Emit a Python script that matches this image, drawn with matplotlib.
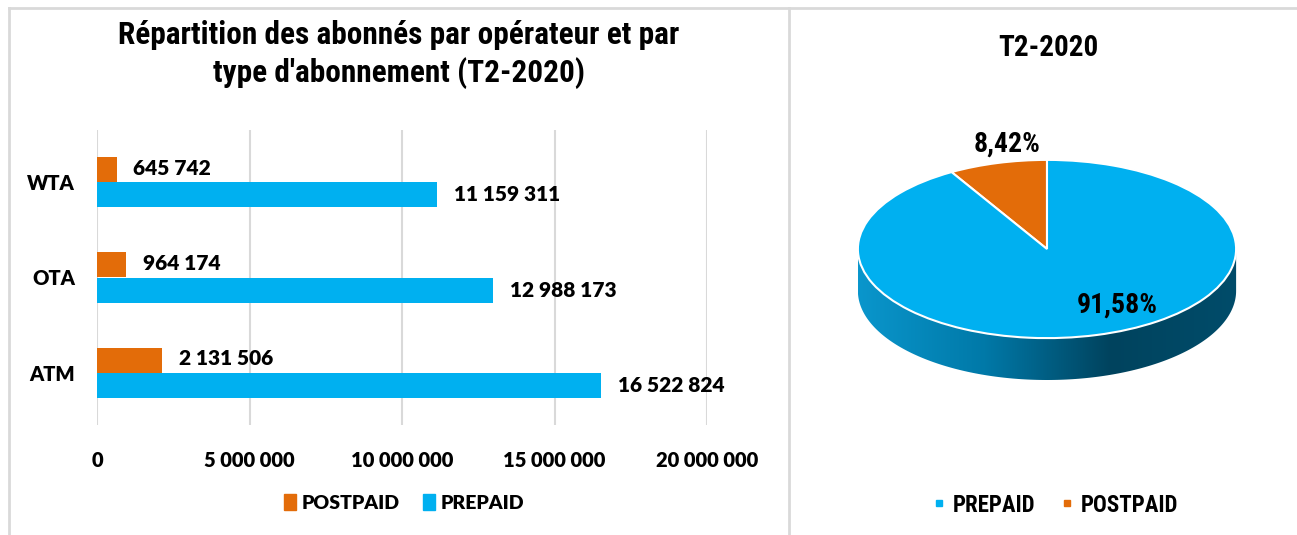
import numpy as np
import matplotlib
matplotlib.use("Agg")
import matplotlib.pyplot as plt
from matplotlib.patches import Patch, Polygon
from matplotlib.lines import Line2D
from matplotlib.colors import LinearSegmentedColormap

# Données
operateurs = ["ATM", "OTA", "WTA"]
postpaid = [2131506, 964174, 645742]
prepaid = [16522824, 12988173, 11159311]
xticks = [0, 5000000, 10000000, 15000000, 20000000]
pie_labels = ["POSTPAID", "PREPAID"]
pie_values = [8.42, 91.58]

ORANGE = "#e36c09"
BLEU = "#00b0f0"
GRIS = "#d9d9d9"

narrow = ["Roboto Condensed", "PT Sans Narrow", "DejaVu Sans"]
calib = ["Lato", "DejaVu Sans"]
POIDS = 800  # Calibri gras -> Lato extra-bold


def fmt(v):
    return f"{v:,}".replace(",", " ")


W, H = 1297, 535
fig = plt.figure(figsize=(W / 100, H / 100), dpi=100)

# cadres des deux graphiques
for xs, ys in [([9, W], [8, 8]), ([9, 9], [8, H]), ([789, 789], [8, H])]:
    fig.add_artist(Line2D([x / W for x in xs], [1 - y / H for y in ys],
                          color=GRIS, lw=2, transform=fig.transFigure))

# ---- barres horizontales ----
ax = fig.add_axes([97 / W, 1 - 425 / H, 610 / W, 295 / H])
y = np.arange(len(operateurs))
h = 0.263
ax.barh(y + h / 2, postpaid, height=h, color=ORANGE, zorder=3)
ax.barh(y - h / 2, prepaid, height=h, color=BLEU, zorder=3)
for i in range(len(operateurs)):
    ax.annotate(fmt(postpaid[i]), (postpaid[i], y[i] + h / 2), xytext=(12, 1),
                textcoords="offset points", va="center", ha="left",
                fontsize=15, fontweight=POIDS, family=calib)
    ax.annotate(fmt(prepaid[i]), (prepaid[i], y[i] - h / 2), xytext=(12, 0),
                textcoords="offset points", va="center", ha="left",
                fontsize=15, fontweight=POIDS, family=calib)
ax.set_xlim(0, 20000000)
ax.set_ylim(-0.55, 2.55)
ax.set_xticks(xticks)
ax.set_xticklabels([fmt(v) for v in xticks], fontsize=14.5, fontweight=POIDS, family=calib)
ax.set_yticks(y)
ax.set_yticklabels(operateurs, fontsize=14.5, fontweight=POIDS, family=calib)
ax.tick_params(length=0)
ax.tick_params(axis="x", pad=19)
ax.tick_params(axis="y", pad=16)
ax.grid(axis="x", color=GRIS, lw=1.5, zorder=0)
for s in ax.spines.values():
    s.set_visible(False)

fig.text(399 / W, 1 - 35 / H, "Répartition des abonnés par opérateur et par",
         ha="center", va="center", fontsize=22.5, fontweight="bold", family=narrow)
fig.text(399 / W, 1 - 73 / H, "type d'abonnement (T2-2020)",
         ha="center", va="center", fontsize=22.5, fontweight="bold", family=narrow)

fig.legend(handles=[Patch(color=ORANGE, label="POSTPAID"), Patch(color=BLEU, label="PREPAID")],
           loc="center", bbox_to_anchor=(404 / W, 1 - 503 / H), ncol=2, frameon=False,
           handlelength=0.6, handleheight=0.9, handletextpad=0.3, columnspacing=1.2,
           prop={"family": calib, "weight": POIDS, "size": 14})

# ---- camembert "3D" ----
depth = 0.47
ax2 = fig.add_axes([856 / W, 1 - 380 / H, 382 / W, 221 / H])
t = np.linspace(np.pi, 2 * np.pi, 200)
pts = np.concatenate([np.c_[np.cos(t), np.sin(t)],
                      np.c_[np.cos(t[::-1]), np.sin(t[::-1]) - depth]])
side = Polygon(pts, closed=True, facecolor="none", edgecolor="none")
ax2.add_patch(side)
cmap = LinearSegmentedColormap.from_list("cote", ["#0a96cc", "#0079a8", "#00435e", "#004c6a"])
grad = np.linspace(0, 1, 256)[None, :]
im = ax2.imshow(grad, cmap=cmap, extent=(-1, 1, -1 - depth, 0), aspect="auto", zorder=1)
im.set_clip_path(side)

ax2.pie(pie_values, colors=[ORANGE, BLEU], startangle=90, counterclock=True,
        wedgeprops=dict(edgecolor="white", linewidth=1.5, zorder=2))
ax2.set_aspect("auto")
ax2.set_xlim(-1.01, 1.01)
ax2.set_ylim(-1 - depth, 1.01)
ax2.axis("off")
ax2.text(0.37, -0.63, "91,58%", ha="center", va="center", fontsize=20,
         fontweight="bold", family=narrow, zorder=5)
ax2.text(-0.21, 1.18, "8,42%", ha="center", va="center", fontsize=20,
         fontweight="bold", family=narrow, zorder=5, clip_on=False)

fig.text(1048 / W, 1 - 48 / H, "T2-2020", ha="center", va="center",
         fontsize=21, fontweight="bold", family=narrow)

fig.legend(handles=[Line2D([], [], marker="s", ls="", color=BLEU, markersize=5, label="PREPAID"),
                    Line2D([], [], marker="s", ls="", color=ORANGE, markersize=5, label="POSTPAID")],
           loc="center", bbox_to_anchor=(1055 / W, 1 - 505 / H), ncol=2, frameon=False,
           handlelength=0.6, handletextpad=0.3, columnspacing=1.1,
           prop={"family": narrow, "weight": "bold", "size": 16.5})

fig.savefig("out.png", dpi=100)
